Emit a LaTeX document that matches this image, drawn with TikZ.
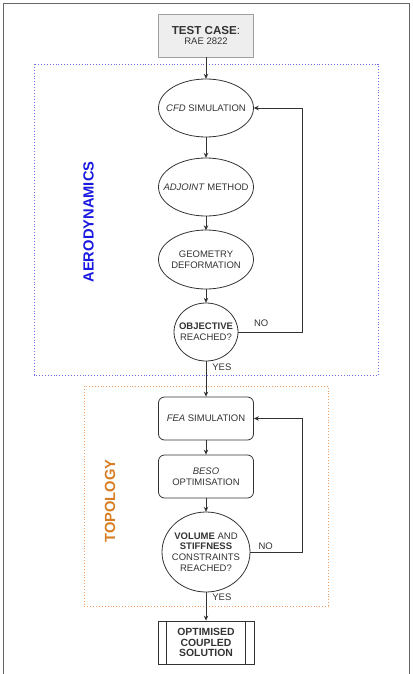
\documentclass[tikz,border=0pt]{standalone}
\usepackage{fontspec}
\setmainfont{Liberation Sans}
\usetikzlibrary{arrows.meta,positioning}

\definecolor{ink}{RGB}{51,51,51}
\definecolor{aeroblue}{RGB}{25,25,225}
\definecolor{aerodot}{RGB}{110,110,240}
\definecolor{topoorange}{RGB}{215,125,35}
\definecolor{topodot}{RGB}{240,160,100}

\begin{document}
\begin{tikzpicture}[x=1pt,y=-1pt,font=\fontsize{9.5}{10.7}\selectfont,text=ink]
			\tikzset{every node/.style={align=center,inner sep=0pt}}
			\tikzset{flow/.style={draw=ink,line width=0.8pt,-{Stealth[length=5pt,width=4.5pt]}}}
			\tikzset{outline/.style={draw=ink,line width=0.8pt}}
			\tikzset{oval/.style={minimum width=95pt,minimum height=58pt}}
			\tikzset{task/.style={rectangle,rounded corners=6pt,outline,minimum width=95pt,minimum height=43pt}}
			\tikzset{region/.style={dotted,line width=0.9pt}}
			\tikzset{tag/.style={rotate=90,font=\fontsize{14.7}{16}\selectfont\bfseries}}
			\useasboundingbox (0,0) rectangle (412,674);
			% frame
			\draw[gray!80!black,line width=0.9pt] (3,690) -- (3,3) -- (409,3) -- (409,690);
			% regions
			\draw[region,aerodot] (34,64) rectangle (378,375);
			\draw[region,topodot] (84,386) rectangle (328,606);
			\node[tag,text=aeroblue] (aerotag) at (88.5,222) {AERODYNAMICS};
			\node[tag,text=topoorange] (topotag) at (110,501) {TOPOLOGY};
			% nodes
			\node[rectangle,draw=gray!75,fill=gray!13,line width=0.8pt,minimum width=95pt,minimum height=43pt] (testcase) at (206,35.5)
				{{\fontsize{11.6}{13}\selectfont\textbf{TEST CASE}:}\\RAE 2822};
			\node[oval] (cfd) at (206,108) {\textit{CFD} SIMULATION};
			\node[oval] (adjoint) at (206,187) {\textit{ADJOINT} METHOD};
			\node[oval] (geometry) at (206,259.5) {GEOMETRY\\DEFORMATION};
			\node[minimum width=64pt,minimum height=58pt] (objective) at (206,332) {\textbf{OBJECTIVE}\\REACHED?};
			\node[task] (fea) at (206,418.5) {\textit{FEA} SIMULATION};
			\node[task] (beso) at (206,476.5) {\textit{BESO}\\OPTIMISATION};
			\node[minimum width=88pt,minimum height=80pt] (constraints) at (206,552)
				{\textbf{VOLUME} AND\\\textbf{STIFFNESS}\\CONSTRAINTS\\REACHED?};
			\node[rectangle,outline,minimum width=96pt,minimum height=43pt,font=\fontsize{10.4}{10.7}\selectfont\bfseries] (solution) at (206,642.5)
				{OPTIMISED\\COUPLED\\SOLUTION};
			% ellipse outlines
			\foreach \n/\rx/\ry in {cfd/47.5/29,adjoint/47.5/29,geometry/47.5/29.5,objective/32/29,constraints/44/40}
				\draw[outline] (\n.center) ellipse [x radius=\rx, y radius=\ry];
			\draw[outline] ([xshift=9pt]solution.north west) -- ([xshift=9pt]solution.south west);
			\draw[outline] ([xshift=-9pt]solution.north east) -- ([xshift=-9pt]solution.south east);
			% connectors
			\draw[flow] (testcase) -- (cfd);
			\draw[flow] (cfd) -- (adjoint);
			\draw[flow] (adjoint) -- (geometry);
			\draw[flow] (geometry) -- (objective);
			\draw[flow] (objective) -- node[pos=0.17,right=6pt] {YES} (fea);
			\draw[flow] (fea) -- (beso);
			\draw[flow] (beso) -- (constraints);
			\draw[flow] (constraints) -- node[pos=0.17,right=6pt] {YES} (solution);
			\coordinate (aeroloop) at (302,332);
			\coordinate (topoloop) at (302,552);
			\draw[flow] (objective.east) -- node[above=5pt,pos=0.36] {NO} (aeroloop) |- (cfd.east);
			\draw[flow] (constraints.east) -- node[above=2pt,pos=0.3] {NO} (topoloop) |- (fea.east);
		\end{tikzpicture}
\end{document}
